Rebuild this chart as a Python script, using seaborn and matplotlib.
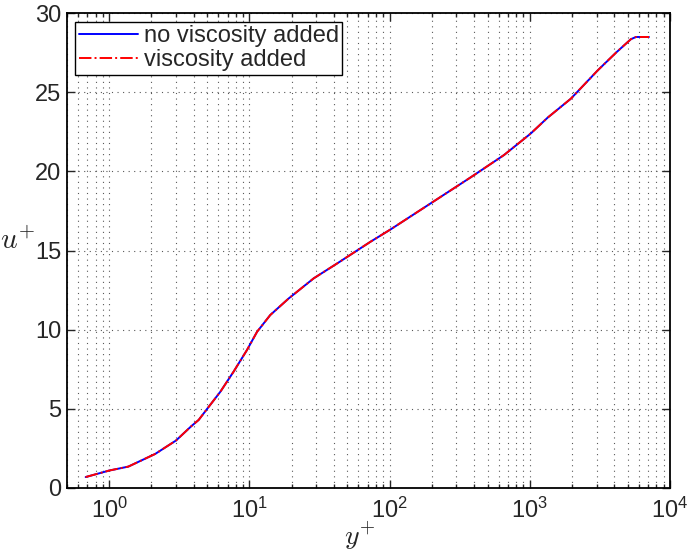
import matplotlib
matplotlib.use("Agg")
import matplotlib.pyplot as plt
import matplotlib.ticker as mticker
import seaborn as sns
import pandas as pd
import numpy as np

# mean velocity profile (y+ , u+)
y_plus = [0.68, 1.0, 1.37, 2.13, 3.0, 3.85, 4.35, 5.0, 6.21, 7.72, 9.62,
          11.35, 14.1, 19.1, 28.8, 42.3, 73.1, 101.7, 196.0, 379.0, 655.0,
          1016.0, 1340.0, 1963.0, 3060.0, 4110.0, 5260.0, 5720.0, 7080.0]
u_plus = [0.69, 1.1, 1.35, 2.15, 3.0, 3.9, 4.3, 5.0, 6.08, 7.35, 8.72,
          9.87, 10.93, 11.98, 13.25, 14.19, 15.56, 16.34, 17.98, 19.63, 21.04,
          22.4, 23.4, 24.6, 26.4, 27.5, 28.36, 28.5, 28.5]

df = pd.DataFrame({"y": y_plus, "u": u_plus})

sns.set_style("ticks")
plt.rcParams["font.family"] = ["Liberation Sans", "DejaVu Sans"]
plt.rcParams["mathtext.fontset"] = "cm"
plt.rcParams["xtick.direction"] = "in"
plt.rcParams["ytick.direction"] = "in"

fig = plt.figure(figsize=(6.9, 5.52), dpi=100)
ax = fig.add_axes([0.097, 0.116, 0.874, 0.86])

sns.lineplot(data=df, x="y", y="u", color="blue", lw=1.4, ax=ax,
             label="no viscosity added")
sns.lineplot(data=df, x="y", y="u", color="red", lw=1.4, ax=ax,
             linestyle="-.", label="viscosity added")

ax.set_xscale("log")
ax.set_xlim(0.5, 1e4)
ax.set_ylim(0, 30)
ax.set_yticks(range(0, 31, 5))
ax.xaxis.set_minor_locator(mticker.LogLocator(base=10, subs=np.arange(2, 10)))
ax.xaxis.set_minor_formatter(mticker.NullFormatter())

dots = (0, (1, 4))
ax.grid(True, which="major", axis="both", color="0.35", linestyle=dots, lw=0.8)
ax.grid(True, which="minor", axis="x", color="0.35", linestyle=dots, lw=0.8)

ax.tick_params(which="both", top=True, right=True, labelsize=17, width=1)
ax.tick_params(axis="y", pad=4)
ax.tick_params(axis="x", pad=7)
ax.tick_params(which="major", length=6)
ax.tick_params(which="minor", length=3)
for s in ax.spines.values():
    s.set_linewidth(1.3)
    s.set_color("black")

ax.set_xlabel("$y^{+}$", fontsize=20)
ax.xaxis.set_label_coords(0.485, -0.066)
ax.set_ylabel("$u^{+}$", fontsize=21, rotation=0, ha="right")
ax.yaxis.set_label_coords(-0.052, 0.49)

leg = ax.legend(loc="upper left", fontsize=17, frameon=True, fancybox=False,
                borderpad=0.15, handlelength=2.5, handletextpad=0.25,
                labelspacing=0.1, borderaxespad=0.35)
leg.get_frame().set_edgecolor("black")
leg.get_frame().set_linewidth(1.0)
leg.get_frame().set_alpha(1)

fig.savefig("out.png", dpi=100)
